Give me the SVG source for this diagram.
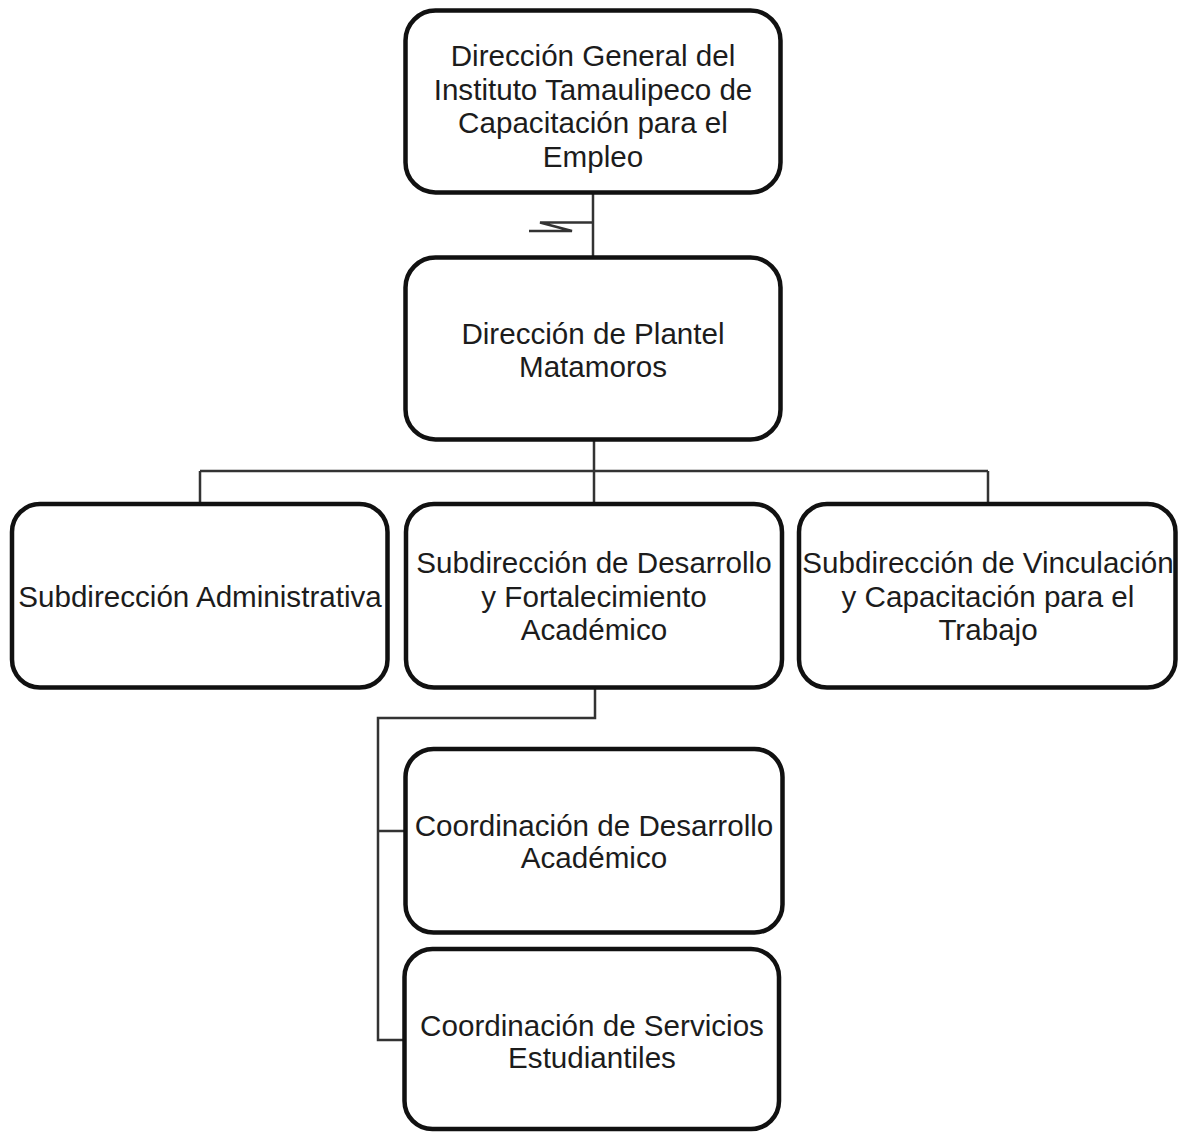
<svg xmlns="http://www.w3.org/2000/svg" width="1179" height="1132" viewBox="0 0 1179 1132">
<style>
.box{fill:#fff;stroke:#111;stroke-width:4.5}
.lbl{font-family:"Liberation Sans",Arial,sans-serif;font-size:29.6px;fill:#1c1c1c;text-anchor:middle}
.con{fill:none;stroke:#333;stroke-width:2.5}
</style>
<rect width="1179" height="1132" fill="#fff"/>
<g id="connectors">
<path class="con" d="M593,193 V257"/>
<path class="con" d="M593,222.5 H540 L572,231 H529" stroke-width="3" stroke-linejoin="miter"/>
<path class="con" d="M594,440 V471 M200,471 H988 M200,471 V504 M594,471 V504 M988,471 V504"/>
<path class="con" d="M595,688 V718 H378 V1040 H404 M378,831 H405"/>
</g>
<g id="n1">
<rect class="box" x="405.5" y="10.5" width="375" height="182" rx="30"/>
<text class="lbl"><tspan x="593" y="66">Dirección General del</tspan><tspan x="593" y="100">Instituto Tamaulipeco de</tspan><tspan x="593" y="133">Capacitación para el</tspan><tspan x="593" y="167">Empleo</tspan></text>
</g>
<g id="n2">
<rect class="box" x="405.5" y="257.5" width="375" height="182" rx="30"/>
<text class="lbl"><tspan x="593" y="344">Dirección de Plantel</tspan><tspan x="593" y="377">Matamoros</tspan></text>
</g>
<g id="n3">
<rect class="box" x="12" y="504" width="375.5" height="183.5" rx="28"/>
<text class="lbl"><tspan x="200" y="607">Subdirección Administrativa</tspan></text>
</g>
<g id="n4">
<rect class="box" x="406" y="504" width="376" height="183.5" rx="28"/>
<text class="lbl"><tspan x="594" y="573">Subdirección de Desarrollo</tspan><tspan x="594" y="607">y Fortalecimiento</tspan><tspan x="594" y="640">Académico</tspan></text>
</g>
<g id="n5">
<rect class="box" x="799" y="504" width="376.5" height="183.5" rx="28"/>
<text class="lbl"><tspan x="988" y="573">Subdirección de Vinculación</tspan><tspan x="988" y="607">y Capacitación para el</tspan><tspan x="988" y="640">Trabajo</tspan></text>
</g>
<g id="n6">
<rect class="box" x="405.5" y="749" width="377" height="183.5" rx="28"/>
<text class="lbl"><tspan x="594" y="836">Coordinación de Desarrollo</tspan><tspan x="594" y="868">Académico</tspan></text>
</g>
<g id="n7">
<rect class="box" x="404.5" y="949" width="374.5" height="180" rx="28"/>
<text class="lbl"><tspan x="592" y="1036">Coordinación de Servicios</tspan><tspan x="592" y="1068">Estudiantiles</tspan></text>
</g>
</svg>
